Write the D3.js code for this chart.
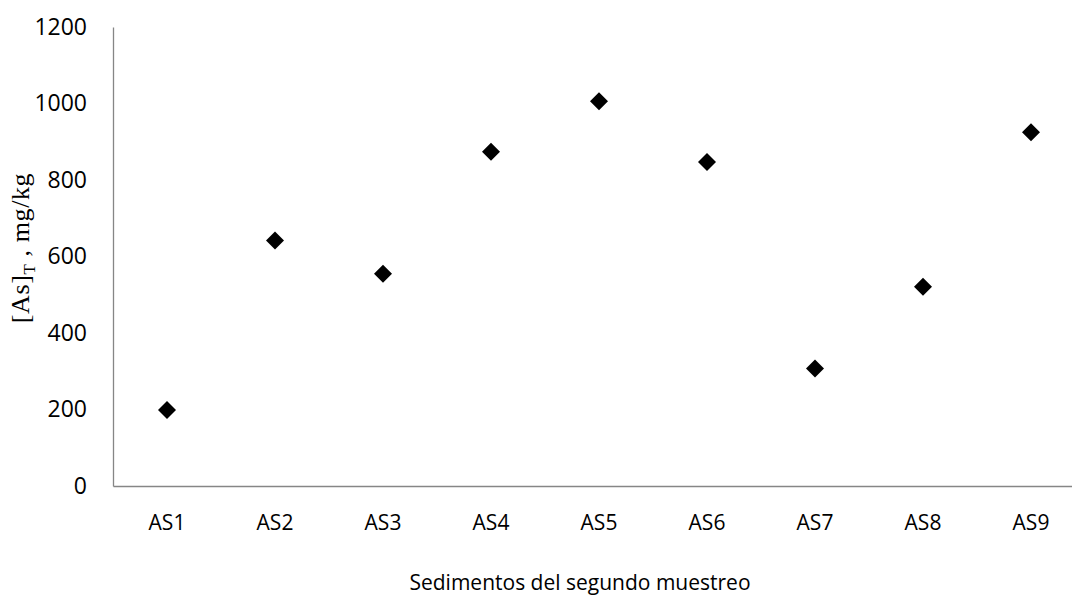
<!DOCTYPE html>
<html>
<head>
<meta charset="utf-8">
<script src="https://cdn.jsdelivr.net/npm/d3@7"></script>
<style>
  html, body { margin: 0; padding: 0; background: #fff; }
  svg { display: block; }
</style>
</head>
<body>
<svg id="chart" width="1072" height="609"></svg>
<script>
const categories = ["AS1", "AS2", "AS3", "AS4", "AS5", "AS6", "AS7", "AS8", "AS9"];
const values = [199, 642, 555, 874, 1006, 847, 307, 521, 925];
const yTicks = [0, 200, 400, 600, 800, 1000, 1200];

(function () {
const svg = d3.select("#chart");
const mLeft = 113, mRight = 1085, mTop = 27, mBottom = 486;
const sansFont = "'Open Sans', 'Liberation Sans', sans-serif";

const x = d3.scaleBand().domain(categories).range([mLeft, mRight]).padding(0);
const y = d3.scaleLinear().domain([0, 1200]).range([mBottom, mTop]);

// y axis
const yAxis = svg.append("g")
  .attr("transform", `translate(${mLeft},0)`)
  .call(d3.axisLeft(y).tickValues(yTicks).tickFormat(d => String(d)).tickSize(0).tickPadding(26));
yAxis.select(".domain").attr("stroke", "#868686").attr("stroke-width", 1.3);
yAxis.selectAll("text")
  .attr("font-family", sansFont)
  .attr("font-size", 23)
  .attr("fill", "#000");

// x axis
const xAxis = svg.append("g")
  .attr("transform", `translate(0,${mBottom})`)
  .call(d3.axisBottom(x).tickSize(0).tickPadding(29));
xAxis.select(".domain").attr("stroke", "#868686").attr("stroke-width", 1.3);
xAxis.selectAll("text")
  .attr("font-family", sansFont)
  .attr("font-size", 21)
  .attr("fill", "#000");

// points
const sym = d3.symbol().type(d3.symbolSquare).size(162);
svg.append("g").selectAll("path")
  .data(categories.map((c, i) => ({c, v: values[i]})))
  .join("path")
  .attr("d", sym)
  .attr("transform", d => `translate(${x(d.c) + x.bandwidth() / 2},${y(d.v)}) rotate(45)`)
  .attr("fill", "#000");

// x title
svg.append("text")
  .attr("x", 580)
  .attr("y", 590)
  .attr("text-anchor", "middle")
  .attr("font-family", sansFont)
  .attr("font-size", 21)
  .attr("fill", "#000")
  .text("Sedimentos del segundo muestreo");

// y title (serif, with subscript T)
const yt = svg.append("text")
  .attr("transform", "translate(29,248) rotate(-90)")
  .attr("text-anchor", "middle")
  .attr("font-family", "'Liberation Serif', 'DejaVu Serif', serif")
  .attr("font-size", 26)
  .attr("letter-spacing", 0.6)
  .attr("fill", "#000");
yt.append("tspan").text("[As]");
yt.append("tspan").attr("font-size", 17).attr("dy", 6).text("T");
yt.append("tspan").attr("dy", -6).text(" , mg/kg");
})();
</script>
</body>
</html>
